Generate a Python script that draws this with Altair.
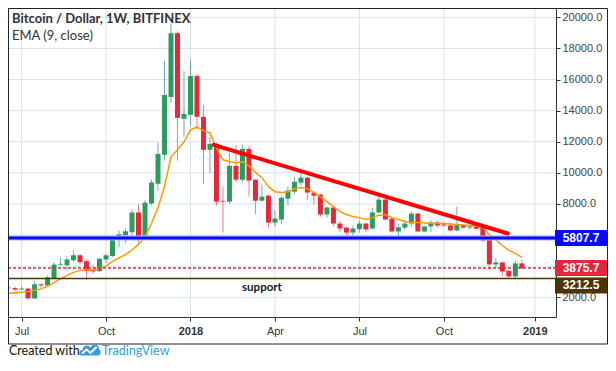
import altair as alt
import pandas as pd

# ---------------- data ----------------
weeks = [d.strftime("%Y-%m-%d") for d in pd.date_range("2017-06-19", periods=80, freq="7D")]

opens = [2620, 2590, 2500, 2560, 1930, 2830, 2760, 3230, 4100, 4060,
         4380, 4700, 4320, 3750, 3680, 4430, 4650, 5730, 5980, 6180,
         7450, 5820, 8030, 9300, 11160, 14880, 18980, 13470, 13730, 16220,
         13600, 11480, 11860, 8200, 8150, 10450, 9560, 11540, 9560, 8210,
         8530, 6800, 7000, 8340, 8790, 9370, 9690, 8730, 8600, 7320,
         7770, 6740, 6480, 6160, 6380, 6740, 6420, 7450, 8280, 7060,
         6230, 6480, 6740, 7380, 6230, 6550, 6810, 6680, 6620, 6300,
         6640, 6480, 6550, 6460, 5700, 4110, 4240, 3700, 3340, 4180]
highs = [2700, 2690, 2720, 2600, 3020, 2900, 3390, 4260, 4560, 4640,
         5000, 4800, 4450, 4100, 4500, 4800, 5930, 6300, 6420, 7640,
         7980, 8230, 9560, 11930, 17180, 19620, 19100, 16540, 17250, 16350,
         14360, 12310, 11950, 9110, 11290, 11800, 11800, 11740, 9600, 9240,
         8600, 7570, 8530, 9110, 9750, 10070, 9750, 8800, 8650, 7830,
         7800, 6930, 6550, 6610, 6930, 6800, 7760, 8470, 8300, 7100,
         6740, 7000, 7510, 7460, 6580, 6950, 6930, 6870, 6740, 7830,
         6680, 6670, 6620, 6610, 5720, 4520, 4300, 3760, 4370, 4430]
lows = [2500, 2400, 2450, 1840, 1880, 2600, 2700, 3150, 4000, 3690,
        4260, 4100, 3100, 3500, 3620, 4200, 4600, 5200, 5500, 6000,
        5480, 5700, 7900, 8850, 10780, 14500, 10780, 12310, 13000, 12800,
        9300, 10010, 7890, 6160, 8000, 9370, 9430, 8470, 7320, 8150,
        6480, 6550, 6740, 7890, 8600, 9180, 8280, 7960, 7190, 7120,
        6550, 6160, 5840, 5900, 6160, 6160, 6350, 7400, 6950, 6160,
        5900, 6310, 6550, 6200, 6200, 6200, 6460, 6530, 6260, 6250,
        6420, 6350, 6350, 5540, 3730, 3840, 3360, 3260, 3250, 3800]
closes = [2580, 2500, 2560, 1930, 2830, 2760, 3280, 4100, 4150, 4430,
          4700, 4260, 3700, 3660, 4480, 4700, 5780, 6050, 6240, 7450,
          5820, 8080, 9380, 11220, 15000, 18980, 13530, 13790, 16220, 13600,
          11480, 11860, 8150, 8150, 10450, 9560, 11540, 9500, 8210, 8470,
          6800, 7060, 8400, 8860, 9430, 9690, 8730, 8530, 7320, 7770,
          6740, 6420, 6160, 6420, 6740, 6360, 7450, 8280, 7000, 6230,
          6500, 6740, 7380, 6230, 6550, 6810, 6610, 6610, 6300, 6640,
          6480, 6550, 6410, 5650, 4110, 4240, 3660, 3340, 4180, 3876]
ema9 = [2255, 2290, 2330, 2370, 2450, 2540, 2700, 2960, 3180, 3410,
        3600, 3730, 3790, 3760, 3860, 4000, 4300, 4530, 4750, 5040,
        5400, 5900, 6740, 7760, 9110, 11030, 11480, 11990, 12760, 12950,
        12700, 12570, 11610, 10840, 10710, 10650, 10710, 10450, 10040, 9690,
        9110, 8790, 8730, 8790, 8980, 9050, 8980, 8730, 8470, 8150,
        7830, 7510, 7320, 7190, 7120, 7000, 7120, 7280, 7320, 7120,
        7000, 6870, 6800, 6800, 6770, 6740, 6740, 6740, 6710, 6680,
        6640, 6610, 6580, 6480, 6030, 5710, 5330, 5010, 4820, 4560]

trend_dates = ["2018-01-26", "2018-12-09"]
trend_values = [11800, 6100]

level_values = [5807.7, 3875.7, 3212.5]
level_labels = ["5807.7", "3875.7", "3212.5"]
level_colors = ["#0a0aff", "#e3263a", "#4d3300"]

grid_prices = [2000, 4000, 6000, 8000, 10000, 12000, 14000, 16000, 18000, 20000]
axis_prices = [2000, 8000, 10000, 12000, 14000, 16000, 18000, 20000]
tick_dates = ["2017-07-03", "2017-10-02", "2018-01-01", "2018-04-02",
              "2018-07-02", "2018-10-01", "2019-01-07"]
tick_labels = ["Jul", "Oct", "2018", "Apr", "Jul", "Oct", "2019"]

title_text = ["Bitcoin / Dollar, 1W, BITFINEX"]
ema_text = ["EMA (9, close)"]
support_text = ["support"]
support_date = ["2018-03-19"]
support_value = [2600]
footer_text = ["Created with"]
brand_text = ["TradingView"]

# ---------------- frames ----------------
candles = pd.DataFrame({"date": weeks, "open": opens, "high": highs,
                        "low": lows, "close": closes})
ema_df = pd.DataFrame({"date": weeks, "ema": ema9})
trend_df = pd.DataFrame({"date": trend_dates, "v": trend_values})
levels = pd.DataFrame({"v": level_values, "label": level_labels, "color": level_colors})
grid_h = pd.DataFrame({"v": grid_prices})
grid_v = pd.DataFrame({"date": tick_dates})
support_df = pd.DataFrame({"date": support_date, "v": support_value, "t": support_text})


def ms(s):
    return int(pd.Timestamp(s, tz="UTC").value // 10**6)


x_domain = [ms("2017-06-23 19:00"), ms("2019-01-24 09:36")]
tick_ms = [ms(d) for d in tick_dates]

xscale = alt.Scale(type="utc", domain=x_domain, nice=False)
yscale = alt.Scale(domain=[732, 20598], zero=False, nice=False)

label_expr = ("[" + ",".join("'%s'" % l for l in tick_labels) + "][indexof(["
              + ",".join("'%s'" % d for d in tick_dates)
              + "], utcFormat(datum.value, '%Y-%m-%d'))]")

x_axis = alt.Axis(values=tick_ms, labelExpr=label_expr, title=None, grid=False,
                  tickSize=4, tickColor="#333333", domainColor="#333333",
                  labelColor="#333333", labelFont="Liberation Sans", labelFontSize=11,
                  labelPadding=4, labelFlush=False, labelOverlap=False,
                  labelFontWeight={"condition": {"test": "utcFormat(datum.value, '%m') == '01'",
                                                 "value": "bold"}, "value": "normal"})
y_axis = alt.Axis(orient="right", values=axis_prices, format=".1f", title=None, grid=False,
                  tickSize=4, tickColor="#333333", domainColor="#333333",
                  labelColor="#444444", labelFont="Liberation Sans", labelFontSize=11,
                  labelPadding=2, labelFlush=False, labelOverlap=False)


def X(field):
    return alt.X(field, scale=xscale, axis=x_axis)


def Y(field):
    return alt.Y(field, scale=yscale, axis=y_axis)


GREEN, RED = "#2a9d5c", "#e5283a"
GWICK, RWICK = "#72aaa4", "#f07f8a"
up = "datum.close >= datum.open"

gridh = alt.Chart(grid_h).mark_rule(color="#d6e3ec", strokeWidth=1).encode(y=Y("v:Q"))
gridv = alt.Chart(grid_v).mark_rule(color="#d6e3ec", strokeWidth=1).encode(x=X("date:T"))

wicks = alt.Chart(candles).mark_rule(strokeWidth=1).encode(
    x=X("date:T"), y=Y("low:Q"), y2="high:Q",
    color=alt.condition(up, alt.value(GWICK), alt.value(RWICK)))
bodies = alt.Chart(candles).mark_bar(width=5).encode(
    x=X("date:T"), y=Y("open:Q"), y2="close:Q",
    color=alt.condition(up, alt.value(GREEN), alt.value(RED)))

ema_line = alt.Chart(ema_df).mark_line(color="#ff9800", strokeWidth=1.5).encode(
    x=X("date:T"), y=Y("ema:Q"))

blue_glow = alt.Chart(levels[levels.label == "5807.7"]).mark_rule(
    color="#aab8ff", strokeWidth=5).encode(y=Y("v:Q"))
blue_line = alt.Chart(levels[levels.label == "5807.7"]).mark_rule(
    color="#0a0aff", strokeWidth=3).encode(y=Y("v:Q"))
red_line = alt.Chart(levels[levels.label == "3875.7"]).mark_rule(
    color="#e3263a", strokeWidth=1.5, strokeDash=[3, 2]).encode(y=Y("v:Q"))
brown_line = alt.Chart(levels[levels.label == "3212.5"]).mark_rule(
    color="#4d3300", strokeWidth=1.5).encode(y=Y("v:Q"))

trend = alt.Chart(trend_df).mark_line(color="#ff0000", strokeWidth=4, strokeCap="round").encode(
    x=X("date:T"), y=Y("v:Q"))

support = alt.Chart(support_df).mark_text(
    font="Lato", fontSize=11.5, fontWeight="bold", color="#131722",
    align="center", baseline="middle").encode(
    x=X("date:T"), y=Y("v:Q"), text="t:N")

fill_scale = alt.Scale(domain=level_labels, range=level_colors)
box_path = "M-1,-0.3077L1,-0.3077L1,0.3077L-1,0.3077Z"
box_path_low = "M-1,-0.0385L1,-0.0385L1,0.5769L-1,0.5769Z"   # pushed down to avoid overlap
top_levels = levels[levels.label != "3212.5"]
low_levels = levels[levels.label == "3212.5"]

BOX_X = 573
boxes = alt.Chart(top_levels).mark_point(shape=box_path, size=2704, filled=True,
                                         opacity=1, strokeWidth=0).encode(
    x=alt.value(BOX_X), y=Y("v:Q"),
    fill=alt.Fill("label:N", scale=fill_scale, legend=None))
boxes_low = alt.Chart(low_levels).mark_point(shape=box_path_low, size=2704, filled=True,
                                             opacity=1, strokeWidth=0).encode(
    x=alt.value(BOX_X), y=Y("v:Q"),
    fill=alt.Fill("label:N", scale=fill_scale, legend=None))
box_text = alt.Chart(top_levels).mark_text(
    font="Liberation Sans", fontSize=12, fontWeight="bold", color="white",
    align="center", baseline="middle").encode(
    x=alt.value(BOX_X), y=Y("v:Q"), text="label:N")
box_text_low = alt.Chart(low_levels).mark_text(
    font="Liberation Sans", fontSize=12, fontWeight="bold", color="white",
    align="center", baseline="middle", dy=7).encode(
    x=alt.value(BOX_X), y=Y("v:Q"), text="label:N")

title = alt.Chart(pd.DataFrame({"t": title_text})).mark_text(
    align="left", baseline="middle", font="Lato", fontSize=13, fontWeight="bold",
    color="#333333").encode(x=alt.value(4), y=alt.value(11), text="t:N")
ema_label = alt.Chart(pd.DataFrame({"t": ema_text})).mark_text(
    align="left", baseline="middle", font="Lato", fontSize=13,
    color="#333333").encode(x=alt.value(4), y=alt.value(28), text="t:N")

frame = alt.Chart(pd.DataFrame({"a": [0]})).mark_rect(
    fillOpacity=0, stroke="#222222", strokeWidth=1).encode(
    x=alt.value(0.5), x2=alt.value(599.5), y=alt.value(0.5), y2=alt.value(336))

footer = alt.Chart(pd.DataFrame({"t": footer_text})).mark_text(
    align="left", baseline="middle", font="Lato", fontSize=12.5,
    color="#111111").encode(x=alt.value(1), y=alt.value(343), text="t:N")
brand = alt.Chart(pd.DataFrame({"t": brand_text})).mark_text(
    align="left", baseline="middle", font="Lato", fontSize=12.5,
    color="#2f9de4").encode(x=alt.value(94), y=alt.value(343), text="t:N")
cloud_path = ("M-0.85,0.55 C-1.15,0.55 -1.15,0.0 -0.75,0.0 C-0.75,-0.5 -0.15,-0.6 0.05,-0.25 "
              "C0.25,-0.75 0.95,-0.6 0.9,-0.05 C1.15,0.05 1.1,0.55 0.85,0.55 Z")
zig_path = "M-0.8,0.35 L-0.35,-0.05 L0.05,0.3 L0.65,-0.3"
logo = alt.Chart(pd.DataFrame({"a": [0]})).mark_point(
    shape=cloud_path, size=400, filled=True, opacity=1, color="#2f9de4").encode(
    x=alt.value(82), y=alt.value(342))
logo_zig = alt.Chart(pd.DataFrame({"a": [0]})).mark_point(
    shape=zig_path, size=400, filled=False, opacity=1, color="#ffffff", strokeWidth=2).encode(
    x=alt.value(82), y=alt.value(342))

chart = alt.layer(
    gridh, gridv, wicks, bodies, ema_line,
    blue_glow, blue_line, red_line, brown_line, trend, support,
    boxes, boxes_low, box_text, box_text_low, title, ema_label, frame,
    footer, brand, logo, logo_zig
).properties(
    width=548, height=309,
    autosize=alt.AutoSizeParams(type="none"),
    padding={"left": 0, "top": 0, "right": 52, "bottom": 40},
    background="white"
).configure_view(stroke=None)

chart.save("out.html", embed_options={"renderer": "svg", "actions": False})
